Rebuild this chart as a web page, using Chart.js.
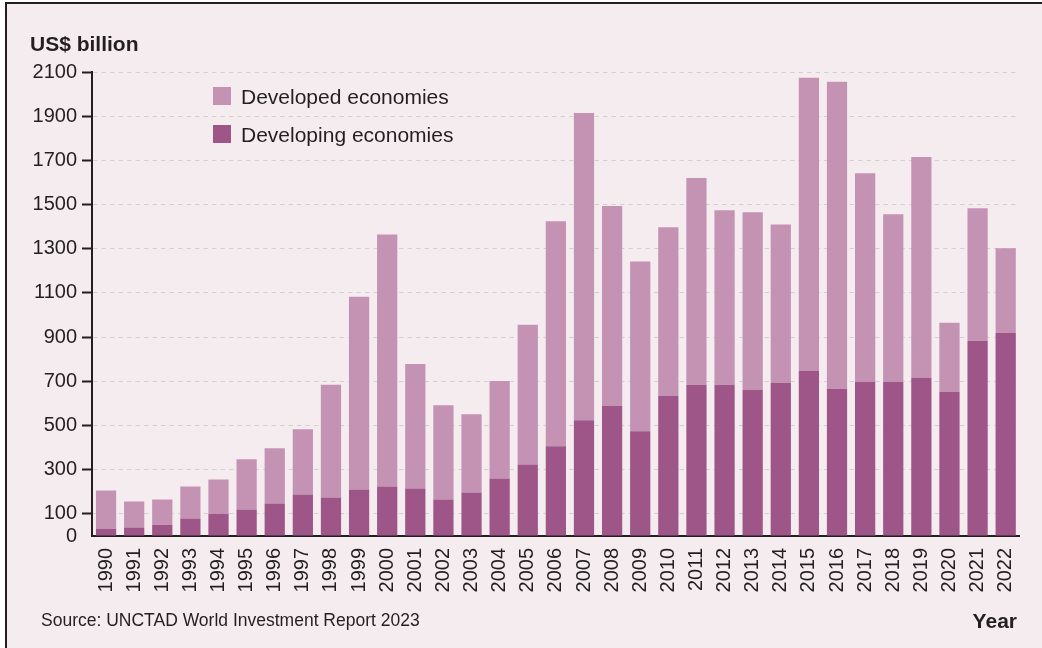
<!DOCTYPE html>
<html>
<head>
<meta charset="utf-8">
<script src="https://cdn.jsdelivr.net/npm/chart.js@4.4.1/dist/chart.umd.min.js"></script>
<style>
    html, body { margin: 0; padding: 0; background: #ffffff; }
    body { width: 1042px; height: 648px; position: relative; overflow: hidden;
           font-family: 'Helvetica Neue', 'Liberation Sans', Arial, sans-serif; color: #231f20; }
    #frame { position: absolute; left: 5px; top: 2px; right: 0; bottom: 0;
             background: #f5ecf0; border-top: 2px solid #231f20; border-left: 2px solid #231f20; }
    #chart { position: absolute; left: 0; top: 0; }
    .txt { position: absolute; line-height: 1; white-space: nowrap; }
    #unit { left: 30px; top: 33px; font-size: 21px; font-weight: bold; }
    #yearLabel { right: 25px; top: 610px; font-size: 21px; font-weight: bold; }
    #source { left: 41px; top: 612px; font-size: 17.5px; }
    .legend-item { position: absolute; left: 213px; font-size: 21px; }
    .legend-item span.box { position: absolute; left: 0; top: 1px; width: 18px; height: 18px; }
    .legend-item span.lbl { position: absolute; left: 28px; top: 0; white-space: nowrap; line-height: 1; }
</style>
</head>
<body>
<div id="frame"></div>
<canvas id="chart" width="1042" height="648"></canvas>
<div class="txt" id="unit">US$ billion</div>
<div class="txt" id="yearLabel">Year</div>
<div class="txt" id="source">Source: UNCTAD World Investment Report 2023</div>
<div id="legend"></div>
<script>
const years = ['1990', '1991', '1992', '1993', '1994', '1995', '1996', '1997', '1998', '1999',
    '2000', '2001', '2002', '2003', '2004', '2005', '2006', '2007', '2008', '2009',
    '2010', '2011', '2012', '2013', '2014', '2015', '2016', '2017', '2018', '2019',
    '2020', '2021', '2022'];

// US$ billion
const developing = [33, 38, 51, 79, 101, 120, 147, 188, 174, 210,
    224, 215, 165, 197, 260, 324, 406, 524, 588, 474,
    634, 684, 684, 661, 692, 747, 665, 697, 697, 715,
    652, 883, 919];
const developed = [173, 118, 114, 145, 155, 227, 250, 295, 510, 873,
    1141, 564, 427, 354, 442, 632, 1019, 1391, 905, 768,
    763, 936, 790, 804, 718, 1327, 1391, 945, 759, 1000,
    313, 600, 383];

const yTicks = [0, 100, 300, 500, 700, 900, 1100, 1300, 1500, 1700, 1900, 2100];

const colDeveloped = '#c493b3';
const colDeveloping = '#9e5588';
const ink = '#231f20';
const tickFont = { family: "'Helvetica Neue', 'Liberation Sans', Arial, sans-serif", size: 20 };

const datasets = [
    { label: 'Developing economies', data: developing, backgroundColor: colDeveloping },
    { label: 'Developed economies', data: developed, backgroundColor: colDeveloped }
];

// legend, developed on top like the original
const legendEl = document.getElementById('legend');
[datasets[1], datasets[0]].forEach(function (ds, i) {
    const item = document.createElement('div');
    item.className = 'legend-item';
    item.style.top = (86 + i * 38) + 'px';
    item.innerHTML = '<span class="box" style="background:' + ds.backgroundColor + '"></span>' +
        '<span class="lbl">' + ds.label + '</span>';
    legendEl.appendChild(item);
});

new Chart(document.getElementById('chart').getContext('2d'), {
    type: 'bar',
    data: {
        labels: years,
        datasets: datasets.map(function (ds) {
            return Object.assign({ barPercentage: 0.72, categoryPercentage: 1, borderWidth: 0 }, ds);
        })
    },
    options: {
        responsive: false,
        animation: false,
        devicePixelRatio: 1,
        layout: { padding: { left: 0, right: 20, top: 72, bottom: 0 } },
        plugins: {
            legend: { display: false },
            tooltip: { enabled: false }
        },
        scales: {
            x: {
                stacked: true,
                grid: { display: false, drawTicks: false },
                border: { display: true, color: ink, width: 2 },
                ticks: {
                    autoSkip: false, minRotation: 90, maxRotation: 90, padding: 12,
                    color: ink, font: tickFont
                },
                afterFit: function (scale) { scale.height = 112; }
            },
            y: {
                stacked: true,
                min: 0,
                max: 2100,
                afterBuildTicks: function (scale) {
                    scale.ticks = yTicks.map(function (v) { return { value: v }; });
                },
                afterFit: function (scale) { scale.width = 92; },
                grid: {
                    color: function (ctx) { return ctx.tick && ctx.tick.value === 0 ? 'rgba(0,0,0,0)' : '#d2d0d0'; },
                    lineWidth: 1,
                    drawTicks: true,
                    tickLength: 10,
                    tickWidth: 2,
                    tickColor: function (ctx) { return ctx.tick && ctx.tick.value === 0 ? 'rgba(0,0,0,0)' : ink; }
                },
                border: { display: true, color: ink, width: 2, dash: [4.5, 4] },
                ticks: {
                    padding: 5, color: ink, font: tickFont,
                    callback: function (value) { return String(value); }
                }
            }
        }
    }
});
</script>
</body>
</html>
